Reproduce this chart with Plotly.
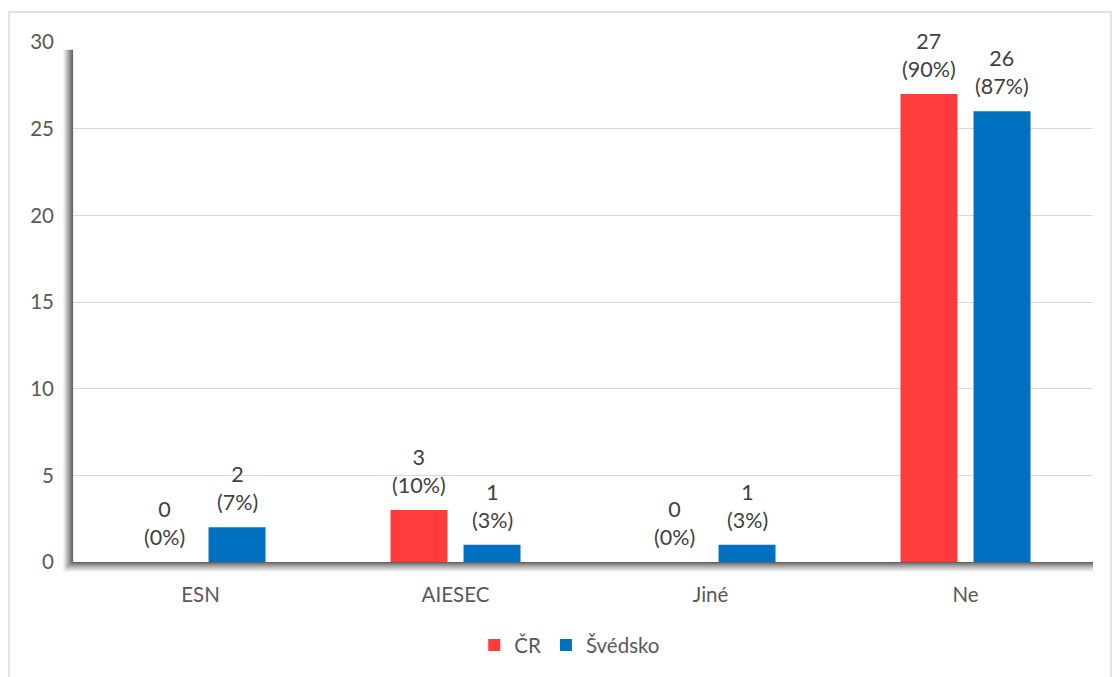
import plotly.graph_objects as go

categories = ["ESN", "AIESEC", "Jiné", "Ne"]
cr_values = [0, 3, 0, 27]
se_values = [2, 1, 1, 26]
cr_total = 30
se_total = 30
series_names = ["ČR", "Švédsko"]
colors = ["#FF3B3B", "#0070C0"]
y_ticks = [0, 5, 10, 15, 20, 25, 30]

FONT = "Lato"
FS = 20.5
TXT = "#404040"
TICK = "#595959"

fig = go.Figure()
for name, vals, col in [(series_names[0], cr_values, colors[0]),
                        (series_names[1], se_values, colors[1])]:
    fig.add_trace(go.Bar(
        x=categories, y=vals, name=name, marker=dict(color=col, line=dict(width=0)),
        hoverinfo="skip",
    ))

annotations = []
for vals, tot, shift in [(cr_values, cr_total, -36.5), (se_values, se_total, 36.5)]:
    for c, v in zip(categories, vals):
        annotations.append(dict(
            x=c, y=v, xref="x", yref="y", text=f"{v}<br>({round(v / tot * 100)}%)",
            showarrow=False, xshift=shift, yshift=10, yanchor="bottom",
            font=dict(family=FONT, size=21.5, color=TXT), align="center",
        ))

shapes = []
# outer chart border
shapes.append(dict(type="rect", xref="paper", yref="paper", x0=-0.0627, x1=1.0176,
                   y0=-0.4, y1=1.0577, line=dict(color="#D9D9D9", width=1.5), layer="below"))
# axis shadows
for i in range(10):
    op = 0.85 * (1 - i / 10) ** 1.2
    shapes.append(dict(type="line", xref="paper", yref="paper",
                       x0=-(i + 0.5) / 1020, x1=-(i + 0.5) / 1020, y0=-(i + 0.5) / 520, y1=0.985,
                       line=dict(color=f"rgba(80,80,80,{op:.3f})", width=1.2)))
    shapes.append(dict(type="line", xref="paper", yref="paper",
                       x0=-(i + 0.5) / 1020, x1=1.0, y0=-(i + 0.5) / 520, y1=-(i + 0.5) / 520,
                       line=dict(color=f"rgba(80,80,80,{op:.3f})", width=1.2)))

fig.update_layout(
    width=1112, height=677,
    margin=dict(l=73, r=19, t=42, b=115),
    paper_bgcolor="white", plot_bgcolor="white",
    barmode="group", bargap=0.427, bargroupgap=0.22,
    font=dict(family=FONT, size=FS, color=TICK),
    showlegend=True,
    legend=dict(orientation="h", x=0.487, xanchor="center", y=-0.16, yanchor="middle",
                font=dict(family=FONT, size=FS, color=TICK), itemwidth=30,
                traceorder="normal"),
    annotations=annotations,
    shapes=shapes,
    xaxis=dict(showgrid=False, showline=True, linecolor="#BFBFBF", linewidth=1,
               ticks="", ticklabelstandoff=14, tickfont=dict(size=FS, color=TICK)),
    yaxis=dict(range=[0, 30], tickvals=y_ticks, showgrid=True, gridcolor="#D9D9D9",
               gridwidth=1, zeroline=False, showline=False, ticks="",
               ticklabelstandoff=18, tickfont=dict(size=FS, color=TICK)),
)

fig.write_html("out.html")
